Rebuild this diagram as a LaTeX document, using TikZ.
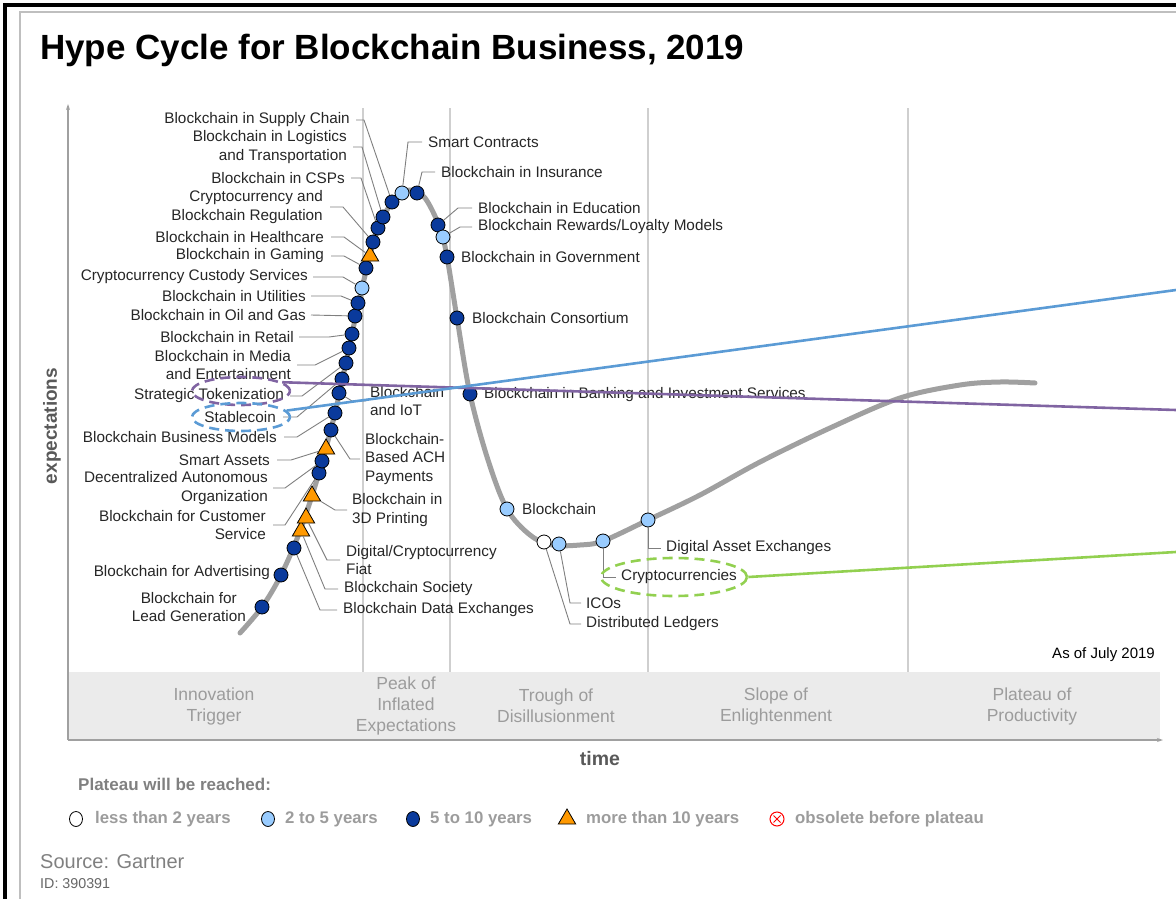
\documentclass[tikz,border=0pt]{standalone}
\usepackage{fontspec}
\setmainfont{Liberation Sans}
\usetikzlibrary{shapes.geometric,arrows.meta}

\definecolor{markdark}{HTML}{0A3A9C}
\definecolor{marklight}{HTML}{99CCFF}
\definecolor{markorange}{HTML}{FF9900}
\definecolor{curvegray}{HTML}{A0A0A0}
\definecolor{leadgray}{HTML}{7F7F7F}
\definecolor{phasegray}{HTML}{CFCFCF}
\definecolor{bandgray}{HTML}{EBEBEB}
\definecolor{phasetext}{HTML}{9C9C9C}
\definecolor{axistext}{HTML}{595959}
\definecolor{labeltext}{HTML}{262626}
\definecolor{tagblue}{HTML}{5B9BD5}
\definecolor{tagpurple}{HTML}{8064A2}
\definecolor{taggreen}{HTML}{92D050}

\tikzset{
  lbl/.style={font=\fontsize{15.3}{18.5}\selectfont, text=labeltext, inner sep=0pt},
  lblL/.style={lbl, anchor=east, align=right},
  lblR/.style={lbl, anchor=west, align=left},
  mk/.style={circle, draw=black, line width=0.8pt, minimum size=14pt, inner sep=0pt},
  dk/.style={mk, fill=markdark},
  lt/.style={mk, fill=marklight},
  op/.style={mk, fill=white},
  tri/.style={regular polygon, regular polygon sides=3, draw=black, line width=0.8pt,
    fill=markorange, minimum size=20pt, inner sep=0pt},
  obs/.style={circle, draw=red, line width=1pt, minimum size=14pt, inner sep=0pt, fill=white,
    path picture={\draw[red, line width=1pt]
      ([shift={(3.5pt,3.5pt)}]path picture bounding box.south west) -- ([shift={(-3.5pt,-3.5pt)}]path picture bounding box.north east)
      ([shift={(3.5pt,-3.5pt)}]path picture bounding box.north west) -- ([shift={(-3.5pt,3.5pt)}]path picture bounding box.south east);}},
  lead/.style={draw=leadgray, line width=0.9pt},
  phase/.style={draw=phasegray, line width=1.5pt},
  phasename/.style={font=\fontsize{17.5}{21}\selectfont, text=phasetext, align=center, inner sep=0pt},
  legtext/.style={font=\bfseries\fontsize{16.8}{20}\selectfont, text=phasetext, anchor=west, inner sep=0pt},
  tag/.style={line width=2.6pt},
  tagring/.style={ellipse, line width=2.6pt, dash pattern=on 10pt off 6pt, inner sep=0pt},
}

\begin{document}
\begin{tikzpicture}[x=1pt, y=-1pt]
\useasboundingbox (0,0) rectangle (1176,899);

% frame
\draw[line width=3.5pt] (5,899) -- (5,5) -- (1176,5);
\draw[black!25, line width=1.5pt] (20,899) -- (20,12) -- (1176,12);

\node[anchor=base west, inner sep=0pt, font=\bfseries\fontsize{35}{40}\selectfont] (title) at (40,60) {Hype Cycle for Blockchain Business, 2019};

% phases
\fill[bandgray] (68,672) rectangle (1160,740);
\foreach \px in {363,450,648,908}
  \draw[phase] (\px,108) -- (\px,672);
\coordinate (origin) at (68,740);
\coordinate (yTop) at (68,104);
\coordinate (xEnd) at (1163,740);
\draw[curvegray, line width=1.2pt, -{Stealth[length=6pt,width=4pt]}] (origin) -- (yTop);
\draw[curvegray, line width=1.2pt, -{Stealth[length=6pt,width=4pt]}] (origin) -- (xEnd);

\node[phasename] (phInnov) at (214,706) {Innovation\\Trigger};
\node[phasename] (phPeak) at (406,706) {Peak of\\Inflated\\Expectations};
\node[phasename] (phTrough) at (556,706) {Trough of\\Disillusionment};
\node[phasename] (phSlope) at (776,706) {Slope of\\Enlightenment};
\node[phasename] (phPlateau) at (1032,706) {Plateau of\\Productivity};

\node[rotate=90, font=\bfseries\fontsize{19}{22}\selectfont, text=axistext] (yName) at (52,426) {expectations};
\node[font=\bfseries\fontsize{19.5}{22}\selectfont, text=axistext] (xName) at (600,759) {time};
\node[anchor=east, inner sep=0pt, font=\fontsize{15}{18}\selectfont] (asOf) at (1155,655) {As of July 2019};

% curve
\draw[curvegray, line width=5pt, line cap=round] plot[smooth, tension=0.55] coordinates {
  (240,633) (262,607) (281,575) (300,531) (319,473) (335,413) (349,348) (362,288)
  (378,228) (395,199) (410,190) (425,198) (440,228) (447,257) (457,318) (470,394)
  (488,460) (507,509) (530,535) (552,545) (580,545) (603,541) (648,520) (700,495)
  (760,462) (830,428) (900,398) (960,385) (1000,382) (1035,383)};

% markers
\node[dk] (mLead) at (262,607) {};
\node[dk] (mAdv) at (281,575) {};
\node[dk] (mDataEx) at (294,548) {};
\node[tri] (mSociety) at (301,531) {};
\node[tri] (mFiat) at (306,518) {};
\node[tri] (mPrint) at (312,496) {};
\node[dk] (mCustSvc) at (319,473) {};
\node[dk] (mDAO) at (322,461) {};
\node[tri] (mSmartA) at (326,449) {};
\node[dk] (mACH) at (331,430) {};
\node[dk] (mBizMod) at (335,413) {};
\node[dk] (mIoT) at (339,393) {};
\node[dk] (mStable) at (342,379) {};
\node[dk] (mToken) at (346,363) {};
\node[dk] (mMedia) at (349,348) {};
\node[dk] (mRetail) at (352,334) {};
\node[dk] (mOil) at (355,316) {};
\node[dk] (mUtil) at (358,303) {};
\node[lt] (mCustody) at (362,288) {};
\node[dk] (mGaming) at (366,268) {};
\node[tri] (mHealth) at (370,256) {};
\node[dk] (mReg) at (373,242) {};
\node[dk] (mCSP) at (378,228) {};
\node[dk] (mLogist) at (383,217) {};
\node[dk] (mSupply) at (392,202) {};
\node[lt] (mSmartC) at (402,193) {};
\node[dk] (mInsur) at (417,193) {};
\node[dk] (mEdu) at (438,225) {};
\node[lt] (mReward) at (443,237) {};
\node[dk] (mGov) at (447,257) {};
\node[dk] (mConsort) at (457,318) {};
\node[dk] (mBank) at (470,394) {};
\node[lt] (mChain) at (507,509) {};
\node[op] (mDistL) at (544,542) {};
\node[lt] (mICO) at (559,544) {};
\node[lt] (mCrypto) at (603,541) {};
\node[lt] (mDAE) at (648,520) {};

% labels, left side
\node[lblL] (lSupply) at (350,120) {Blockchain in Supply Chain};
\node[lblL] (lLogist) at (347,147) {Blockchain in Logistics\\and Transportation};
\node[lblL] (lCSP) at (345,178) {Blockchain in CSPs};
\node[lblL] (lReg) at (323,207) {Cryptocurrency and\\Blockchain Regulation};
\node[lblL] (lHealth) at (324,237) {Blockchain in Healthcare};
\node[lblL] (lGaming) at (324,256) {Blockchain in Gaming};
\node[lblL] (lCustody) at (308,277) {Cryptocurrency Custody Services};
\node[lblL] (lUtil) at (306,296) {Blockchain in Utilities};
\node[lblL] (lOil) at (306,315) {Blockchain in Oil and Gas};
\node[lblL] (lRetail) at (294,337) {Blockchain in Retail};
\node[lblL] (lMedia) at (291,365) {Blockchain in Media\\and Entertainment};
\node[lblL] (lToken) at (284,396) {Strategic Tokenization};
\node[lblL] (lStable) at (276,417) {Stablecoin};
\node[lblL] (lBizMod) at (277,437) {Blockchain Business Models};
\node[lblL] (lSmartA) at (270,460) {Smart Assets};
\node[lblL] (lDAO) at (268,488) {Decentralized Autonomous\\Organization};
\node[lblL] (lCustSvc) at (266,525) {Blockchain for Customer\\Service};
\node[lblL] (lAdv) at (270,573) {Blockchain for Advertising};
\node[lblL, align=center] (lLead) at (246,607) {Blockchain for\\Lead Generation};

% labels, right side
\node[lblR] (lIoT) at (370,401) {Blockchain\\and IoT};
\node[lblR] (lACH) at (365,459) {Blockchain-\\Based ACH\\Payments};
\node[lblR] (lPrint) at (352,510) {Blockchain in\\3D Printing};
\node[lblR] (lFiat) at (346,560) {Digital/Cryptocurrency\\Fiat};
\node[lblR] (lSociety) at (344,589) {Blockchain Society};
\node[lblR] (lDataEx) at (343,610) {Blockchain Data Exchanges};
\node[lblR] (lSmartC) at (428,142) {Smart Contracts};
\node[lblR] (lInsur) at (441,172) {Blockchain in Insurance};
\node[lblR] (lEdu) at (478,208) {Blockchain in Education};
\node[lblR] (lReward) at (478,227) {Blockchain Rewards/Loyalty Models};
\node[lblR] (lGov) at (461,257) {Blockchain in Government};
\node[lblR] (lConsort) at (472,318) {Blockchain Consortium};
\node[lblR] (lBank) at (484,395) {Blockchain in Banking and Investment Services};
\node[lblR] (lChain) at (522,509) {Blockchain};
\node[lblR] (lICO) at (586,603) {ICOs};
\node[lblR] (lDistL) at (586,624) {Distributed Ledgers};
\node[lblR] (lCrypto) at (621,577) {Cryptocurrencies};
\node[lblR] (lDAE) at (666,548) {Digital Asset Exchanges};

% leader lines
\draw[lead] ([xshift=6pt]lSupply.east) -- ++(8,0) -- (mSupply);
\draw[lead] ([xshift=6pt]lLogist.east) -- ++(9,0) -- (mLogist);
\draw[lead] ([xshift=6pt]lCSP.east) -- ++(10,0) -- (mCSP);
\draw[lead] ([xshift=7pt]lReg.east) -- ++(13,0) -- (mReg);
\draw[lead] ([xshift=7pt]lHealth.east) -- ++(13,0) -- (mHealth);
\draw[lead] ([xshift=7pt]lGaming.east) -- ++(13,0) -- (mGaming);
\draw[lead] ([xshift=5pt]lCustody.east) -- ++(30,0) -- (mCustody);
\draw[lead] ([xshift=5pt]lUtil.east) -- ++(30,0) -- (mUtil);
\draw[lead] ([xshift=5pt]lOil.east) -- (mOil);
\draw[lead] ([xshift=5pt]lRetail.east) -- ++(30,0) -- (mRetail);
\draw[lead] ([xshift=6pt]lMedia.east) -- ++(18,0) -- (mMedia);
\draw[lead] ([xshift=6pt]lToken.east) -- ++(12,0) -- (mToken);
\draw[lead] ([xshift=7pt]lStable.east) -- ++(14,0) -- (mStable);
\draw[lead] ([xshift=7pt]lBizMod.east) -- ++(13,0) -- (mBizMod);
\draw[lead] ([xshift=7pt]lSmartA.east) -- ++(14,0) -- (mSmartA);
\draw[lead] ([xshift=5pt]lDAO.east) -- ++(12,0) -- (mDAO);
\draw[lead] ([xshift=7pt]lCustSvc.east) -- ++(12,0) -- (mCustSvc);
\draw[lead] (mIoT) -- ([xshift=-18pt]lIoT.west) -- ([xshift=-4pt]lIoT.west);
\draw[lead] (mACH) -- ([xshift=-15pt]lACH.west) -- ([xshift=-5pt]lACH.west);
\draw[lead] (mPrint) -- ([xshift=-17pt]lPrint.west) -- ([xshift=-5pt]lPrint.west);
\draw[lead] (mFiat) -- ([xshift=-19pt]lFiat.west) -- ([xshift=-6pt]lFiat.west);
\draw[lead] (mSociety) -- ([xshift=-19pt]lSociety.west) -- ([xshift=-6pt]lSociety.west);
\draw[lead] (mDataEx) -- ([xshift=-23pt]lDataEx.west) -- ([xshift=-6pt]lDataEx.west);
\draw[lead] (mSmartC) -- ([xshift=-20pt]lSmartC.west) -- ([xshift=-6pt]lSmartC.west);
\draw[lead] (mInsur) -- ([xshift=-19pt]lInsur.west) -- ([xshift=-6pt]lInsur.west);
\draw[lead] (mEdu) -- ([xshift=-20pt]lEdu.west) -- ([xshift=-6pt]lEdu.west);
\draw[lead] (mReward) -- ([xshift=-18pt]lReward.west) -- ([xshift=-6pt]lReward.west);
\draw[lead] (mDistL) -- ([xshift=-16pt]lDistL.west) -- ([xshift=-5pt]lDistL.west);
\draw[lead] (mICO) -- ([xshift=-16pt]lICO.west) -- ([xshift=-5pt]lICO.west);
\draw[lead] (mCrypto) |- ([xshift=-5pt]lCrypto.west);
\draw[lead] (mDAE) |- ([xshift=-5pt]lDAE.west);

% legend
\node[anchor=west, inner sep=0pt, font=\bfseries\fontsize{17}{20}\selectfont, text=black!50] (legTitle) at (78,784) {Plateau will be reached:};
\node[op, minimum width=13pt, minimum height=15pt, ellipse] (kOpen) at (76,819) {};
\node[legtext] (tOpen) at (95,819) {less than 2 years};
\node[lt, minimum width=13pt, minimum height=15pt, ellipse] (kLight) at (268,819) {};
\node[legtext] (tLight) at (285,819) {2 to 5 years};
\node[dk, minimum width=13pt, minimum height=15pt, ellipse] (kDark) at (413,819) {};
\node[legtext] (tDark) at (430,819) {5 to 10 years};
\node[tri] (kTri) at (567,819) {};
\node[legtext] (tTri) at (586,819) {more than 10 years};
\node[obs] (kObs) at (777,819) {};
\node[legtext] (tObs) at (795,819) {obsolete before plateau};

\node[anchor=west, inner sep=0pt, font=\fontsize{20}{24}\selectfont, text=black!50] (source) at (40,862) {Source: Gartner};
\node[anchor=west, inner sep=0pt, font=\fontsize{14.3}{17}\selectfont, text=black!60] (docId) at (40,884) {ID: 390391};

% highlights
\node[tagring, draw=tagpurple, minimum width=98pt, minimum height=28pt] (ringToken) at (241,391) {};
\node[tagring, draw=tagblue, minimum width=98pt, minimum height=28pt] (ringStable) at (241,417) {};
\node[tagring, draw=taggreen, minimum width=146pt, minimum height=38pt] (ringCrypto) at (674,577) {};
\coordinate (tokenEnd) at (1176,410);
\coordinate (stableEnd) at (1176,290);
\coordinate (cryptoEnd) at (1176,552);
\draw[tag, tagpurple] (ringToken.12) -- (tokenEnd);
\draw[tag, tagblue] (ringStable.8) -- (stableEnd);
\draw[tag, taggreen] (ringCrypto.east) -- (cryptoEnd);

\end{tikzpicture}
\end{document}
